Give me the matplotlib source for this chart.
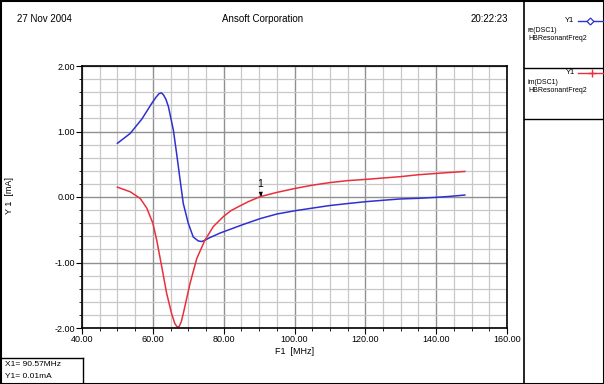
# Ansoft style report: Y1 re/im of DSC1 vs frequency
import matplotlib.pyplot as plt
from matplotlib.lines import Line2D
from matplotlib.ticker import MultipleLocator, FormatStrFormatter

plt.rcParams['font.family'] = ['Liberation Sans', 'DejaVu Sans']

# data
freq_re = [50, 53.6, 56.9, 59.7, 61.0, 61.8, 62.4, 63.0, 63.7, 64.4, 65.8, 66.7, 67.7, 68.6,
           70.0, 71.4, 72.8, 73.8, 74.7, 76.1, 79.0, 82.0, 85.5, 90.3, 95.0, 100.1,
           105.0, 110.0, 115.0, 120.4, 125.0, 129.8, 135.0, 140.1, 144.0, 148.1]
re_dsc = [0.82, 0.97, 1.19, 1.43, 1.53, 1.58, 1.59, 1.56, 1.49, 1.38, 1.02, 0.67, 0.26, -0.10,
          -0.40, -0.61, -0.67, -0.68, -0.66, -0.62, -0.55, -0.49, -0.42, -0.33, -0.26, -0.21,
          -0.17, -0.13, -0.10, -0.07, -0.05, -0.03, -0.02, -0.005, 0.01, 0.03]

freq_im = [50, 53.6, 56.4, 58.3, 60.0, 61.1, 62.5, 63.9, 65.3, 66.2, 66.8, 67.4, 68.0, 68.6,
           70.5, 72.4, 74.7, 77.1, 79.9, 82.0, 84.1, 87.0, 90.3, 95.0, 100.1,
           105.0, 110.0, 115.0, 120.4, 125.0, 129.8, 135.0, 140.1, 144.0, 148.1]
im_dsc = [0.15, 0.08, -0.02, -0.17, -0.40, -0.66, -1.06, -1.47, -1.78, -1.93, -1.98, -1.98, -1.91, -1.78,
          -1.32, -0.94, -0.66, -0.45, -0.30, -0.21, -0.15, -0.07, 0.005, 0.07, 0.13,
          0.18, 0.22, 0.25, 0.27, 0.29, 0.31, 0.34, 0.36, 0.375, 0.39]

marker_x, marker_y = 90.57, 0.01

blue = '#3030d0'
red = '#e8303c'
W, H = 604, 384

fig = plt.figure(figsize=(6.04, 3.84), dpi=100)
ax = fig.add_axes([82 / W, 1 - 328 / H, 425 / W, 262 / H])

ax.plot(freq_re, re_dsc, color=blue, lw=1.1)
ax.plot(freq_im, im_dsc, color=red, lw=1.1)

ax.set_xlim(40, 160)
ax.set_ylim(-2, 2)
ax.xaxis.set_major_locator(MultipleLocator(20))
ax.xaxis.set_minor_locator(MultipleLocator(5))
ax.yaxis.set_major_locator(MultipleLocator(1))
ax.yaxis.set_minor_locator(MultipleLocator(0.2))
ax.xaxis.set_major_formatter(FormatStrFormatter('%.2f'))
ax.yaxis.set_major_formatter(FormatStrFormatter('%.2f'))
ax.grid(which='major', color='#909090', lw=1.0)
ax.grid(which='minor', color='#c8c8c8', lw=0.9)
ax.set_axisbelow(True)
ax.tick_params(which='major', length=4, width=0.8, labelsize=6.5, pad=1)
ax.tick_params(which='minor', length=2, width=0.6)
for s in ax.spines.values():
    s.set_linewidth(1.2)

ax.set_xlabel('F1  [MHz]', fontsize=6.5, labelpad=2)
fig.text(10 / W, 1 - 195 / H, 'Y 1  [mA]', rotation=90, fontsize=6.5, ha='center', va='center')

# marker "1"
ax.annotate('1', xy=(marker_x, marker_y), xytext=(marker_x - 0.3, 0.12),
            fontsize=7.5, ha='center', va='bottom',
            arrowprops=dict(arrowstyle='-|>', color='black', lw=0.8, mutation_scale=5))

# header
fig.text(17 / W, 1 - 19 / H, '27 Nov 2004', fontsize=7, va='center')
fig.text(263 / W, 1 - 19 / H, 'Ansoft Corporation', fontsize=7, ha='center', va='center')
fig.text(508 / W, 1 - 19 / H, '20:22:23', fontsize=7, ha='right', va='center')

# frames
def fline(x0, y0, x1, y1, lw=1.0):
    fig.add_artist(Line2D([x0 / W, x1 / W], [1 - y0 / H, 1 - y1 / H], color='black', lw=lw))

fline(0.5, 0.5, W - 0.5, 0.5, 1.5)
fline(0.5, H - 0.5, W - 0.5, H - 0.5, 1.5)
fline(0.5, 0, 0.5, H, 1.5)
fline(W - 0.5, 0, W - 0.5, H, 1.5)
fline(524, 0, 524, H, 1.2)
fline(524, 68, W, 68, 1.0)
fline(524, 119, W, 119, 1.0)
fline(0, 358, 83, 358, 1.0)
fline(83, 358, 83, H, 1.0)

# legend panel
fig.text(574 / W, 1 - 21 / H, 'Y1', fontsize=5.5, ha='right', va='center')
fig.add_artist(Line2D([578 / W, 604 / W], [1 - 21 / H, 1 - 21 / H], color=blue, lw=1.0))
fig.add_artist(Line2D([590 / W], [1 - 21 / H], color=blue, marker='D', ms=3.5,
                      mfc='white', mec=blue, mew=0.9))
fig.text(528 / W, 1 - 31 / H, 're(DSC1)', fontsize=5, va='center')
fig.text(528 / W, 1 - 39 / H, 'HBResonantFreq2', fontsize=5, va='center')

fig.text(575 / W, 1 - 73 / H, 'Y1', fontsize=5.5, ha='right', va='center')
fig.add_artist(Line2D([578 / W, 604 / W], [1 - 73 / H, 1 - 73 / H], color=red, lw=1.0))
fig.add_artist(Line2D([592 / W], [1 - 73 / H], color=red, marker='+', ms=6, mew=1.0))
fig.text(528 / W, 1 - 82 / H, 'im(DSC1)', fontsize=5, va='center')
fig.text(528 / W, 1 - 90 / H, 'HBResonantFreq2', fontsize=5, va='center')

# marker readout box
fig.text(5 / W, 1 - 365 / H, 'X1= 90.57MHz', fontsize=6, va='center')
fig.text(5 / W, 1 - 377 / H, 'Y1= 0.01mA', fontsize=6, va='center')

fig.savefig('out.png', dpi=100)
